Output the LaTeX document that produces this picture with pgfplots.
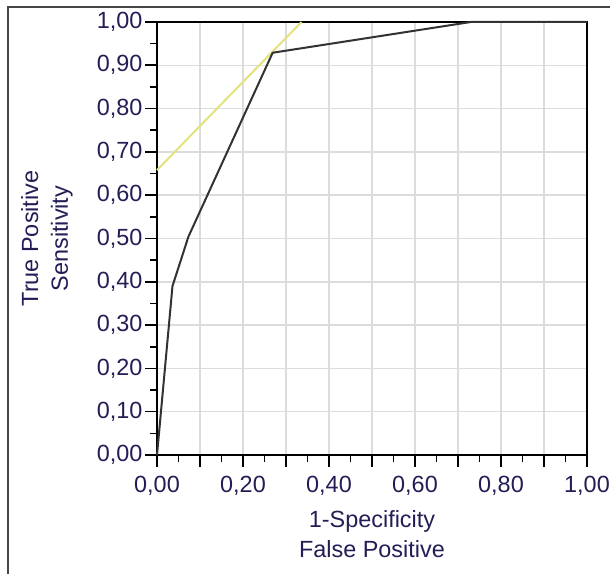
\documentclass[border=0pt]{standalone}
\usepackage{pgfplots}
\pgfplotsset{compat=1.18}
\usepackage{fontspec}
\setmainfont{Liberation Sans}
\definecolor{labcol}{RGB}{35,30,85}
\definecolor{gridcol}{RGB}{220,220,220}
\definecolor{rocline}{RGB}{50,50,50}
\definecolor{tanline}{RGB}{228,226,125}
\definecolor{framecol}{RGB}{70,70,70}
\newcommand{\fs}{\fontsize{23.5}{30}\selectfont}
\begin{document}
\begin{tikzpicture}
    \useasboundingbox (0,0) rectangle (610bp,574bp);
    \fill[white] (0,0) rectangle (610bp,574bp);
    \draw[framecol, line width=1.5bp] (8bp,0) -- (8bp,567bp) -- (610bp,567bp);
    \begin{axis}[
            at={(157bp,119bp)},
            anchor=south west,
            scale only axis,
            width=430bp,
            height=433bp,
            xmin=0, xmax=1,
            ymin=0, ymax=1,
            xtick={0,0.1,0.2,0.3,0.4,0.5,0.6,0.7,0.8,0.9,1},
            xticklabels={{0,00},{},{0,20},{},{0,40},{},{0,60},{},{0,80},{},{1,00}},
            ytick={0,0.1,0.2,0.3,0.4,0.5,0.6,0.7,0.8,0.9,1},
            yticklabels={{0,00},{0,10},{0,20},{0,30},{0,40},{0,50},{0,60},{0,70},{0,80},{0,90},{1,00}},
            minor xtick={0.05,0.15,0.25,0.35,0.45,0.55,0.65,0.75,0.85,0.95},
            minor ytick={0.05,0.15,0.25,0.35,0.45,0.55,0.65,0.75,0.85,0.95},
            tick align=outside,
            major tick length=12bp,
            minor tick length=7bp,
            every tick/.style={black, line width=1.6bp},
            xtick pos=bottom,
            ytick pos=left,
            grid=major,
            major grid style={gridcol, line width=1.5bp},
            axis line style={black, line width=2.2bp},
            tick label style={font=\fs, text=labcol},
            xticklabel style={yshift=-6bp},
            yticklabel style={xshift=1bp},
            xlabel={1-Specificity\\False Positive},
            ylabel={True Positive\\Sensitivity},
            label style={font=\fs, text=labcol, align=center},
            xlabel style={at={(axis description cs:0.5,-0.182)}, anchor=center},
            ylabel style={at={(axis description cs:-0.256,0.5)}, anchor=center},
            clip=false,
        ]
        \addplot[tanline, line width=2bp] coordinates {
                (0,0.658) (0.336,1.0)
            };
        \addplot[rocline, line width=2bp] coordinates {
                (0,0) (0.036,0.39) (0.073,0.504) (0.269,0.929) (0.73,1.0) (1,1)
            };
    \end{axis}
\end{tikzpicture}
\end{document}
